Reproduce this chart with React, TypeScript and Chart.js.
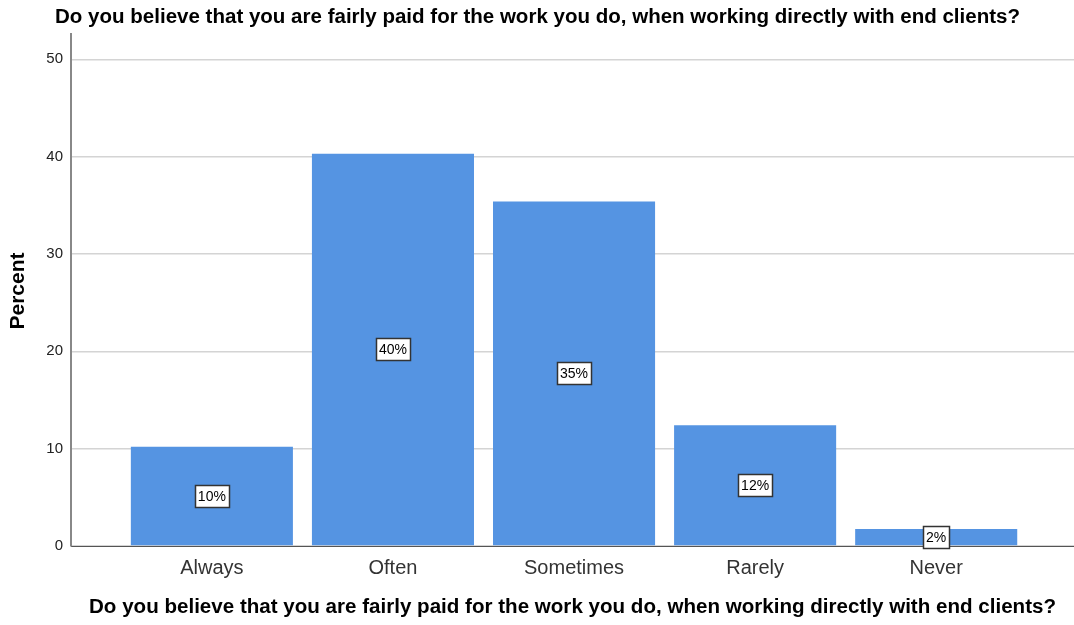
import React, { useEffect, useRef } from "react";
import { Chart, registerables } from "chart.js";

Chart.register(...registerables);

const categories = ["Always", "Often", "Sometimes", "Rarely", "Never"];
const percentValues = [10.2, 40.3, 35.4, 12.4, 1.75];
const valueLabels = ["10%", "40%", "35%", "12%", "2%"];
const yTickValues = [0, 10, 20, 30, 40, 50];
const chartTitle =
  "Do you believe that you are fairly paid for the work you do, when working directly with end clients?";
const xTitle =
  "Do you believe that you are fairly paid for the work you do, when working directly with end clients?";
const yTitle = "Percent";

const FONT = 'Arial, "Liberation Sans", sans-serif';

export default function App() {
  const ref = useRef<HTMLCanvasElement | null>(null);

  useEffect(() => {
    document.body.style.margin = "0";
    const canvas = ref.current;
    if (!canvas) return;

    const labelPlugin = {
      id: "labelsAndTitles",
      afterDatasetsDraw(chart: any) {
        const ctx = chart.ctx;
        const meta = chart.getDatasetMeta(0);
        ctx.save();
        ctx.font = `14px ${FONT}`;
        ctx.textAlign = "center";
        ctx.textBaseline = "middle";
        meta.data.forEach((el: any, i: number) => {
          const cx = el.x;
          const cy = (el.y + el.base) / 2;
          const t = valueLabels[i];
          const w = Math.round(ctx.measureText(t).width + 6);
          const h = 22;
          const x0 = Math.round(cx - w / 2) + 0.5;
          const y0 = Math.round(cy - h / 2) + 0.5;
          ctx.fillStyle = "#ffffff";
          ctx.fillRect(x0, y0, w, h);
          ctx.strokeStyle = "#333333";
          ctx.lineWidth = 1.5;
          ctx.strokeRect(x0, y0, w, h);
          ctx.fillStyle = "#000000";
          ctx.fillText(t, cx, cy + 1);
        });
        ctx.restore();
      },
      afterDraw(chart: any) {
        const ctx = chart.ctx;
        const area = chart.chartArea;
        ctx.save();
        ctx.fillStyle = "#000000";
        ctx.textAlign = "center";
        ctx.textBaseline = "middle";
        // top title
        ctx.font = `bold 20px ${FONT}`;
        const tw0 = ctx.measureText(chartTitle).width;
        ctx.save();
        ctx.translate(537.5, 17);
        ctx.scale(965 / tw0, 1);
        ctx.fillText(chartTitle, 0, 0);
        ctx.restore();
        // x title, condensed to target width
        ctx.font = `bold 20px ${FONT}`;
        const tw = ctx.measureText(xTitle).width;
        const cx = (area.left + area.right) / 2;
        ctx.save();
        ctx.translate(cx, 607);
        ctx.scale(967 / tw, 1);
        ctx.fillText(xTitle, 0, 0);
        ctx.restore();
        // y title
        ctx.save();
        ctx.translate(18, 291);
        ctx.rotate(-Math.PI / 2);
        ctx.font = `bold 21px ${FONT}`;
        ctx.fillText(yTitle, 0, 0);
        ctx.restore();
        ctx.restore();
      },
    };

    const chart = new Chart(canvas, {
      type: "bar",
      data: {
        datasets: [
          {
            data: percentValues.map((v, i) => ({ x: i, y: v })),
            backgroundColor: "#5594e2",
            borderWidth: 0,
            barPercentage: 0.895,
            categoryPercentage: 1,
          },
        ],
      },
      options: {
        responsive: false,
        animation: false,
        layout: { padding: { left: 0, right: 0, top: 34, bottom: 0 } },
        plugins: {
          legend: { display: false },
          title: { display: false },
          tooltip: { enabled: false },
        },
        scales: {
          x: {
            type: "linear",
            offset: false,
            min: -0.778,
            max: 4.761,
            afterBuildTicks: (scale: any) => {
              scale.ticks = categories.map((_, i) => ({ value: i }));
            },
            afterFit: (scale: any) => {
              scale.height = 79;
            },
            grid: { display: false, drawTicks: false, offset: false },
            border: { display: true, color: "#555555", width: 1 },
            ticks: {
              autoSkip: false,
              maxRotation: 0,
              padding: 10,
              color: "#333333",
              font: { family: FONT, size: 20 },
              callback: (v: any) => categories[v as number] ?? "",
            },
          },
          y: {
            min: 0,
            max: 52.6,
            afterBuildTicks: (scale: any) => {
              scale.ticks = yTickValues.map((v) => ({ value: v }));
            },
            afterFit: (scale: any) => {
              scale.width = 71;
            },
            grid: { color: "#d4d4d4", lineWidth: 1.5, drawTicks: false },
            border: { display: true, color: "#888888", width: 2 },
            ticks: {
              padding: 8,
              color: "#222222",
              font: { family: FONT, size: 15 },
            },
          },
        },
      },
      plugins: [labelPlugin],
    });

    return () => chart.destroy();
  }, []);

  return (
    <div style={{ width: 1074, height: 625 }}>
      <canvas ref={ref} width={1074} height={625} />
    </div>
  );
}
